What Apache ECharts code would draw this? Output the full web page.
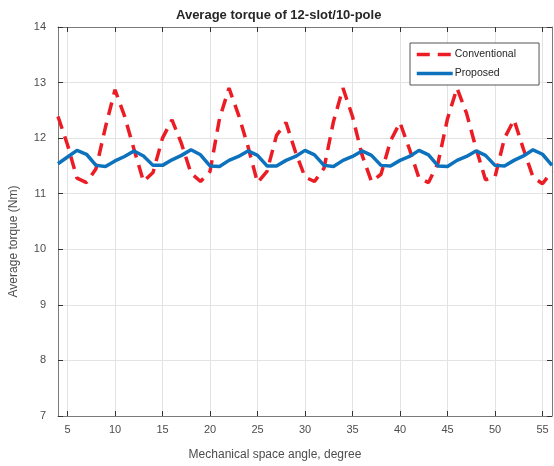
<!DOCTYPE html>
<html>
<head>
<meta charset="utf-8">
<script src="https://cdn.jsdelivr.net/npm/echarts@6/dist/echarts.min.js"></script>
<style>
  html, body { margin: 0; padding: 0; background: #fff; }
  #chart { width: 554px; height: 466px; }
</style>
</head>
<body>
<div id="chart"></div>
<script>
// mechanical angle, degree (1 deg steps)
const angles = [4, 5, 6, 7, 8, 9, 10, 11, 12, 13, 14, 15, 16, 17, 18, 19, 20, 21, 22, 23,
  24, 25, 26, 27, 28, 29, 30, 31, 32, 33, 34, 35, 36, 37, 38, 39, 40, 41, 42, 43,
  44, 45, 46, 47, 48, 49, 50, 51, 52, 53, 54, 55, 56];

const conventional = [12.39, 11.88, 11.28, 11.2, 11.45, 12.2, 12.87, 12.4, 11.8, 11.22,
  11.38, 12.0, 12.33, 11.9, 11.37, 11.22, 11.4, 12.35, 12.9, 12.42,
  11.85, 11.2, 11.4, 12.05, 12.28, 11.75, 11.3, 11.22, 11.46, 12.3,
  12.9, 12.39, 11.7, 11.22, 11.35, 11.95, 12.28, 11.8, 11.28, 11.2,
  11.55, 12.35, 12.9, 12.45, 11.82, 11.25, 11.3, 12.0, 12.33, 11.8,
  11.3, 11.18, 11.4];

const proposed = [11.54, 11.66, 11.78, 11.71, 11.51, 11.49, 11.59, 11.67, 11.77, 11.68,
  11.51, 11.51, 11.61, 11.69, 11.79, 11.7, 11.5, 11.49, 11.6, 11.67,
  11.77, 11.69, 11.5, 11.5, 11.6, 11.67, 11.78, 11.7, 11.51, 11.49,
  11.6, 11.67, 11.77, 11.69, 11.51, 11.5, 11.6, 11.67, 11.78, 11.7,
  11.5, 11.49, 11.6, 11.67, 11.77, 11.69, 11.51, 11.5, 11.6, 11.68,
  11.79, 11.71, 11.51];

const xTicks = [5, 10, 15, 20, 25, 30, 35, 40, 45, 50, 55];

const font = 'Liberation Sans, Arial, sans-serif';
const axisColor = '#7a7a7a';
const textColor = '#4d4d4d';
const gridColor = '#e3e3e3';

const chart = echarts.init(document.getElementById('chart'));

const xCommon = {
  type: 'value',
  min: 4,
  max: 56,
  axisLine: { show: true, onZero: false, lineStyle: { color: axisColor, width: 1 } },
  axisTick: { show: true, inside: true, length: 5, customValues: xTicks, lineStyle: { color: '#333' } }
};

const yCommon = {
  type: 'value',
  min: 7,
  max: 14,
  interval: 1,
  axisLine: { show: true, onZero: false, lineStyle: { color: axisColor, width: 1 } },
  axisTick: { show: true, inside: true, length: 5, lineStyle: { color: '#333' } }
};

chart.setOption({
  animation: false,
  backgroundColor: '#fff',
  title: {
    text: 'Average torque of 12-slot/10-pole',
    left: 171,
    top: 4,
    textStyle: { fontFamily: font, fontSize: 13, fontWeight: 'bold', color: '#262626' }
  },
  legend: {
    orient: 'vertical',
    left: 410,
    top: 43,
    padding: [6, 23, 6, 5],
    itemGap: 8,
    itemWidth: 36,
    itemHeight: 8,
    borderColor: '#555',
    borderWidth: 1,
    backgroundColor: '#fff',
    itemStyle: { opacity: 0 },
    lineStyle: { width: 3.5 },
    textStyle: { fontFamily: font, fontSize: 10.5, color: '#262626', padding: [0, 0, 0, -3] },
    data: ['Conventional', 'Proposed']
  },
  grid: { left: 58, right: 2, top: 27, bottom: 48 },
  xAxis: [
    Object.assign({}, xCommon, {
      position: 'bottom',
      name: 'Mechanical space angle, degree',
      nameLocation: 'middle',
      nameGap: 33,
      nameTextStyle: { fontFamily: font, fontSize: 12, color: textColor, padding: [0, 60, 0, 0] },
      axisLabel: { show: true, margin: 8, customValues: xTicks, fontFamily: font, fontSize: 11, color: textColor },
      splitLine: { show: true, lineStyle: { color: gridColor, width: 1 } }
    }),
    Object.assign({}, xCommon, {
      position: 'top',
      axisLabel: { show: false },
      splitLine: { show: false }
    })
  ],
  yAxis: [
    Object.assign({}, yCommon, {
      position: 'left',
      name: 'Average torque (Nm)',
      nameLocation: 'middle',
      nameGap: 38,
      nameTextStyle: { fontFamily: font, fontSize: 12, color: textColor, padding: [0, 40, 0, 0] },
      axisLabel: { show: true, margin: 12, fontFamily: font, fontSize: 11, color: textColor },
      splitLine: { show: true, lineStyle: { color: gridColor, width: 1 } }
    }),
    Object.assign({}, yCommon, {
      position: 'right',
      axisLabel: { show: false },
      splitLine: { show: false }
    })
  ],
  series: [
    {
      name: 'Conventional',
      type: 'line',
      xAxisIndex: 0,
      yAxisIndex: 0,
      symbol: 'none',
      data: angles.map((a, i) => [a, conventional[i]]),
      lineStyle: { color: '#ec1c24', width: 3.5, type: [13, 8] },
      itemStyle: { color: '#ec1c24' },
      z: 3
    },
    {
      name: 'Proposed',
      type: 'line',
      xAxisIndex: 0,
      yAxisIndex: 0,
      symbol: 'none',
      data: angles.map((a, i) => [a, proposed[i]]),
      lineStyle: { color: '#0d72bd', width: 3.5 },
      itemStyle: { color: '#0d72bd' },
      z: 4
    }
  ]
});
</script>
</body>
</html>
